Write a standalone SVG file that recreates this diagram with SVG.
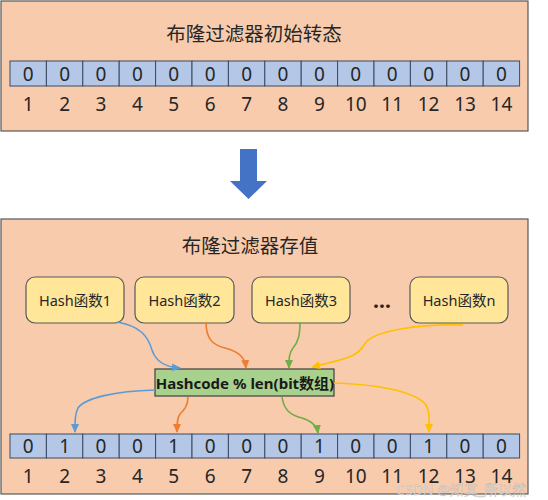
<svg xmlns="http://www.w3.org/2000/svg" width="548" height="500" viewBox="0 0 548 500">
<defs>
<style>
.panel{fill:#F8CBAD;stroke:#595959;stroke-width:1.2}
.cell{fill:#B4C7E7;stroke:#3B4A63;stroke-width:1}
.celltxt{font-family:"Noto Sans","Noto Sans CJK SC",sans-serif;font-size:19px;fill:#262626;text-anchor:middle;dominant-baseline:central}
.title{font-family:"Noto Sans CJK SC","Noto Sans",sans-serif;font-size:19.5px;fill:#262626;text-anchor:middle;dominant-baseline:central}
.hbox{fill:#FFE699;stroke:#595959;stroke-width:1.2}
.htxt{font-family:"Noto Sans","Noto Sans CJK SC",sans-serif;font-size:14.5px;fill:#262626;text-anchor:middle;dominant-baseline:central}
.gbox{fill:#A9D18E;stroke:#3F3F3F;stroke-width:1.2}
.gtxt{font-family:"Noto Sans","Noto Sans CJK SC",sans-serif;font-size:15px;font-weight:bold;fill:#1a1a1a;text-anchor:middle;dominant-baseline:central}
.c{fill:none;stroke-width:1.6}
.blue{stroke:#5B9BD5}.orange{stroke:#ED7D31}.green{stroke:#70AD47}.yellow{stroke:#FFC000}
</style>
<marker id="mBlue" markerWidth="9" markerHeight="8" refX="8" refY="4" orient="auto" markerUnits="userSpaceOnUse"><path d="M0,0 L9,4 L0,8 Z" fill="#5B9BD5"/></marker>
<marker id="mOrange" markerWidth="9" markerHeight="8" refX="8" refY="4" orient="auto" markerUnits="userSpaceOnUse"><path d="M0,0 L9,4 L0,8 Z" fill="#ED7D31"/></marker>
<marker id="mGreen" markerWidth="9" markerHeight="8" refX="8" refY="4" orient="auto" markerUnits="userSpaceOnUse"><path d="M0,0 L9,4 L0,8 Z" fill="#70AD47"/></marker>
<marker id="mYellow" markerWidth="9" markerHeight="8" refX="8" refY="4" orient="auto" markerUnits="userSpaceOnUse"><path d="M0,0 L9,4 L0,8 Z" fill="#FFC000"/></marker>
</defs>
<rect width="548" height="500" fill="#ffffff"/>

<g id="panel-initial">
<rect class="panel" x="1" y="1" width="527" height="130"/>
<text class="title" x="254" y="32">布隆过滤器初始转态</text>
<g id="array-initial">
<rect class="cell" x="10" y="61" width="36.4" height="25"/>
<rect class="cell" x="46.4" y="61" width="36.4" height="25"/>
<rect class="cell" x="82.8" y="61" width="36.4" height="25"/>
<rect class="cell" x="119.2" y="61" width="36.4" height="25"/>
<rect class="cell" x="155.6" y="61" width="36.4" height="25"/>
<rect class="cell" x="192" y="61" width="36.4" height="25"/>
<rect class="cell" x="228.4" y="61" width="36.4" height="25"/>
<rect class="cell" x="264.8" y="61" width="36.4" height="25"/>
<rect class="cell" x="301.2" y="61" width="36.4" height="25"/>
<rect class="cell" x="337.6" y="61" width="36.4" height="25"/>
<rect class="cell" x="374" y="61" width="36.4" height="25"/>
<rect class="cell" x="410.4" y="61" width="36.4" height="25"/>
<rect class="cell" x="446.8" y="61" width="36.4" height="25"/>
<rect class="cell" x="483.2" y="61" width="36.4" height="25"/>
<text class="celltxt" x="28.2" y="73.5">0</text>
<text class="celltxt" x="64.6" y="73.5">0</text>
<text class="celltxt" x="101" y="73.5">0</text>
<text class="celltxt" x="137.4" y="73.5">0</text>
<text class="celltxt" x="173.8" y="73.5">0</text>
<text class="celltxt" x="210.2" y="73.5">0</text>
<text class="celltxt" x="246.6" y="73.5">0</text>
<text class="celltxt" x="283" y="73.5">0</text>
<text class="celltxt" x="319.4" y="73.5">0</text>
<text class="celltxt" x="355.8" y="73.5">0</text>
<text class="celltxt" x="392.2" y="73.5">0</text>
<text class="celltxt" x="428.6" y="73.5">0</text>
<text class="celltxt" x="465" y="73.5">0</text>
<text class="celltxt" x="501.4" y="73.5">0</text>
</g>
<g id="index-initial">
<text class="celltxt" x="28.2" y="104">1</text>
<text class="celltxt" x="64.6" y="104">2</text>
<text class="celltxt" x="101" y="104">3</text>
<text class="celltxt" x="137.4" y="104">4</text>
<text class="celltxt" x="173.8" y="104">5</text>
<text class="celltxt" x="210.2" y="104">6</text>
<text class="celltxt" x="246.6" y="104">7</text>
<text class="celltxt" x="283" y="104">8</text>
<text class="celltxt" x="319.4" y="104">9</text>
<text class="celltxt" x="355.8" y="104">10</text>
<text class="celltxt" x="392.2" y="104">11</text>
<text class="celltxt" x="428.6" y="104">12</text>
<text class="celltxt" x="465" y="104">13</text>
<text class="celltxt" x="501.4" y="104">14</text>
</g>
</g>

<g id="big-arrow">
<path d="M240,149 L257,149 L257,181 L267,181 L248.5,199 L230,181 L240,181 Z" fill="#4472C4"/>
</g>

<g id="panel-store">
<rect class="panel" x="1" y="219" width="527" height="275"/>
<text class="title" x="250" y="244">布隆过滤器存值</text>
</g>

<g id="hash1"><rect class="hbox" x="26" y="277" width="98" height="46" rx="9"/><text class="htxt" x="75" y="300">Hash函数1</text></g>
<g id="hash2"><rect class="hbox" x="135" y="277" width="99" height="46" rx="9"/><text class="htxt" x="184.5" y="300">Hash函数2</text></g>
<g id="hash3"><rect class="hbox" x="252" y="277" width="98" height="46" rx="9"/><text class="htxt" x="301" y="300">Hash函数3</text></g>
<g id="dots"><text class="htxt" x="382" y="300" style="font-weight:bold;font-size:21px">…</text></g>
<g id="hashn"><rect class="hbox" x="410" y="277" width="98" height="46" rx="9"/><text class="htxt" x="459" y="300">Hash函数n</text></g>

<g id="mod">
<rect class="gbox" x="155" y="369" width="179" height="27"/>
<text class="gtxt" x="245" y="383">Hashcode % len(bit数组)</text>
</g>

<g id="connectors">
<path class="c blue" d="M117,322 C140,326 148,336 152,350 C156,362 165,367 180,368" marker-end="url(#mBlue)"/>
<path class="c orange" d="M206,322 C206,338 212,345 225,348 C240,352 245,358 246,368" marker-end="url(#mOrange)"/>
<path class="c green" d="M300,322 C300,336 298,342 293,348 C289,353 289,358 289,368" marker-end="url(#mGreen)"/>
<path class="c yellow" d="M463,325 C420,324 372,330 364,345 C357,358 340,360 312,367" marker-end="url(#mYellow)"/>
<path class="c blue" d="M155,390 C115,391 85,398 78,408 C75,414 75,420 75,432" marker-end="url(#mBlue)"/>
<path class="c orange" d="M188,397 C188,406 184,410 180,414 C177,418 177,424 177,432" marker-end="url(#mOrange)"/>
<path class="c green" d="M282,397 C284,410 290,415 302,418 C312,421 317,426 318,433" marker-end="url(#mGreen)"/>
<path class="c yellow" d="M334,383 C370,384 415,390 426,405 C430,412 429,420 429,432" marker-end="url(#mYellow)"/>
</g>

<g id="array-store">
<rect class="cell" x="10" y="434" width="36.4" height="24"/>
<rect class="cell" x="46.4" y="434" width="36.4" height="24"/>
<rect class="cell" x="82.8" y="434" width="36.4" height="24"/>
<rect class="cell" x="119.2" y="434" width="36.4" height="24"/>
<rect class="cell" x="155.6" y="434" width="36.4" height="24"/>
<rect class="cell" x="192" y="434" width="36.4" height="24"/>
<rect class="cell" x="228.4" y="434" width="36.4" height="24"/>
<rect class="cell" x="264.8" y="434" width="36.4" height="24"/>
<rect class="cell" x="301.2" y="434" width="36.4" height="24"/>
<rect class="cell" x="337.6" y="434" width="36.4" height="24"/>
<rect class="cell" x="374" y="434" width="36.4" height="24"/>
<rect class="cell" x="410.4" y="434" width="36.4" height="24"/>
<rect class="cell" x="446.8" y="434" width="36.4" height="24"/>
<rect class="cell" x="483.2" y="434" width="36.4" height="24"/>
<text class="celltxt" x="28.2" y="445.5">0</text>
<text class="celltxt" x="64.6" y="445.5">1</text>
<text class="celltxt" x="101" y="445.5">0</text>
<text class="celltxt" x="137.4" y="445.5">0</text>
<text class="celltxt" x="173.8" y="445.5">1</text>
<text class="celltxt" x="210.2" y="445.5">0</text>
<text class="celltxt" x="246.6" y="445.5">0</text>
<text class="celltxt" x="283" y="445.5">0</text>
<text class="celltxt" x="319.4" y="445.5">1</text>
<text class="celltxt" x="355.8" y="445.5">0</text>
<text class="celltxt" x="392.2" y="445.5">0</text>
<text class="celltxt" x="428.6" y="445.5">1</text>
<text class="celltxt" x="465" y="445.5">0</text>
<text class="celltxt" x="501.4" y="445.5">0</text>
</g>
<g id="index-store">
<text class="celltxt" x="28.2" y="476">1</text>
<text class="celltxt" x="64.6" y="476">2</text>
<text class="celltxt" x="101" y="476">3</text>
<text class="celltxt" x="137.4" y="476">4</text>
<text class="celltxt" x="173.8" y="476">5</text>
<text class="celltxt" x="210.2" y="476">6</text>
<text class="celltxt" x="246.6" y="476">7</text>
<text class="celltxt" x="283" y="476">8</text>
<text class="celltxt" x="319.4" y="476">9</text>
<text class="celltxt" x="355.8" y="476">10</text>
<text class="celltxt" x="392.2" y="476">11</text>
<text class="celltxt" x="428.6" y="476">12</text>
<text class="celltxt" x="465" y="476">13</text>
<text class="celltxt" x="501.4" y="476">14</text>
</g>

<g id="watermark">
<text x="461" y="489" style="font-family:'Noto Sans','Noto Sans CJK SC',sans-serif;font-size:14px;fill:#e6e6e6;fill-opacity:0.85;stroke:#9a9a9a;stroke-width:0.4;stroke-opacity:0.6;text-anchor:middle;dominant-baseline:central">CSDN @知其_所以然</text>
</g>
</svg>
